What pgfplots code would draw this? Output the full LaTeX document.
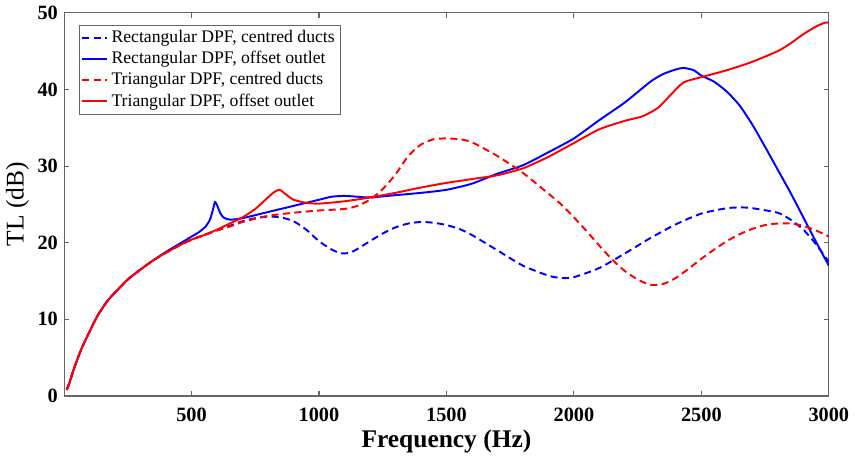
\documentclass[border=0pt]{standalone}
\usepackage{fontspec}
\setmainfont{Liberation Serif}
\usepackage{pgfplots}
\pgfplotsset{compat=1.18}

\begin{document}
\begin{tikzpicture}
\begin{axis}[
  scale only axis,
  width=433pt, height=217pt,
  xmin=0, xmax=3000, ymin=0, ymax=50,
  xtick={500,1000,1500,2000,2500,3000},
  ytick={0,10,20,30,40,50},
  axis line style={gray!80!black, line width=0.6pt},
  tick style={gray!80!black, line width=0.6pt},
  tick align=inside, major tick length=3pt,
  /pgf/number format/assume math mode=true,
  /pgf/number format/1000 sep={},
  ticklabel style={font=\fontsize{11.5}{13}\selectfont\bfseries},
  xticklabel style={yshift=-3pt},
  xlabel={Frequency (Hz)},
  ylabel={TL (dB)},
  xlabel style={font=\fontsize{14.4}{17}\selectfont\bfseries, yshift=2pt},
  ylabel style={font=\fontsize{14.4}{17}\selectfont, yshift=-2pt},
  legend style={at={(0.0197,0.969)}, anchor=north west,
    draw=gray!80!black, line width=0.5pt, font=\fontsize{10}{12}\selectfont,
    inner sep=1pt, row sep=-0.5pt},
  legend cell align=left,
  legend image code/.code={\draw[#1, line width=1.1pt] (0pt,0pt) -- (14pt,0pt);},
  every axis plot/.append style={line width=1.1pt, smooth, tension=0.4},
]
% Rectangular DPF, centred ducts
\addplot[blue, dash pattern=on 4pt off 2.5pt] coordinates {
(10,0.8)(20,1.6)(35,3.2)(50,4.6)(70,6.3)(100,8.4)(130,10.4)(170,12.4)(200,13.5)
(250,15.2)(300,16.5)(350,17.7)(400,18.7)(450,19.6)(500,20.4)(550,21.0)(600,21.6)
(650,22.2)(700,22.8)(750,23.2)(800,23.4)(850,23.3)(900,22.8)(950,21.7)(1000,20.2)
(1050,19.1)(1090,18.6)(1130,18.8)(1200,20.2)(1250,21.2)(1300,22.0)(1350,22.5)
(1400,22.7)(1450,22.6)(1500,22.3)(1550,21.8)(1600,21.0)(1700,19.0)(1800,17.0)
(1900,15.7)(1950,15.4)(2000,15.5)(2100,16.7)(2200,18.6)(2300,20.6)(2400,22.4)
(2500,23.8)(2600,24.5)(2660,24.6)(2700,24.5)(2800,23.9)(2850,23.0)(2900,21.7)
(2950,19.8)(3000,17.5)};
\addlegendentry{Rectangular DPF, centred ducts}
% Rectangular DPF, offset outlet
\addplot[blue] coordinates {
(10,0.8)(20,1.6)(35,3.2)(50,4.6)(70,6.3)(100,8.4)(130,10.4)(170,12.4)(200,13.5)
(250,15.2)(300,16.5)(350,17.7)(400,18.8)(450,19.8)(500,20.8)(530,21.4)(555,22.1)
(572,23.0)(583,24.2)(592,25.3)(600,24.9)(612,23.9)(625,23.3)(650,23.0)(700,23.2)
(800,24.0)(900,24.8)(1000,25.6)(1050,26.0)(1100,26.1)(1150,26.0)(1200,25.9)
(1300,26.2)(1400,26.5)(1500,26.9)(1600,27.7)(1700,29.0)(1800,30.1)(1900,31.8)
(2000,33.6)(2100,36.0)(2200,38.3)(2300,41.0)(2350,42.0)(2400,42.6)(2430,42.8)
(2470,42.5)(2500,41.8)(2550,41.0)(2600,39.7)(2650,37.9)(2700,35.4)(2750,32.5)
(2800,29.5)(2850,26.5)(2900,23.3)(2950,20.1)(3000,17.0)};
\addlegendentry{Rectangular DPF, offset outlet}
% Triangular DPF, centred ducts
\addplot[red, dash pattern=on 4pt off 2.5pt] coordinates {
(10,0.8)(20,1.6)(35,3.2)(50,4.6)(70,6.3)(100,8.4)(130,10.4)(170,12.4)(200,13.5)
(250,15.2)(300,16.5)(350,17.7)(400,18.7)(450,19.6)(500,20.4)(550,21.0)(600,21.6)
(650,22.1)(700,22.7)(800,23.5)(900,23.9)(1000,24.2)(1100,24.4)(1150,24.8)
(1200,25.6)(1250,27.0)(1300,28.9)(1350,31.3)(1400,32.8)(1450,33.5)(1500,33.6)
(1550,33.5)(1600,33.1)(1700,31.3)(1800,29.1)(1900,26.4)(1950,25.0)(2000,23.3)
(2050,21.5)(2100,19.6)(2150,17.8)(2200,16.3)(2250,15.2)(2300,14.5)(2350,14.6)
(2400,15.4)(2450,16.6)(2500,17.9)(2550,19.1)(2600,20.2)(2650,21.1)(2700,21.8)
(2750,22.3)(2800,22.5)(2850,22.5)(2900,22.2)(2950,21.6)(3000,20.8)};
\addlegendentry{Triangular DPF, centred ducts}
% Triangular DPF, offset outlet
\addplot[red] coordinates {
(10,0.8)(20,1.6)(35,3.2)(50,4.6)(70,6.3)(100,8.4)(130,10.4)(170,12.4)(200,13.5)
(250,15.2)(300,16.5)(350,17.7)(400,18.7)(450,19.6)(500,20.4)(550,21.0)(600,21.7)
(650,22.5)(700,23.3)(750,24.4)(790,25.6)(820,26.5)(845,26.9)(870,26.3)(900,25.6)
(950,25.2)(1000,25.1)(1100,25.4)(1200,25.9)(1300,26.5)(1400,27.2)(1500,27.8)
(1600,28.3)(1700,28.8)(1800,29.7)(1900,31.2)(2000,33.0)(2100,34.8)(2200,35.9)
(2270,36.5)(2330,37.6)(2380,39.3)(2430,40.9)(2500,41.6)(2600,42.5)(2700,43.6)
(2800,45.0)(2850,46.0)(2900,47.2)(2950,48.2)(2985,48.7)(3000,48.7)};
\addlegendentry{Triangular DPF, offset outlet}
\end{axis}
\end{tikzpicture}
\end{document}
